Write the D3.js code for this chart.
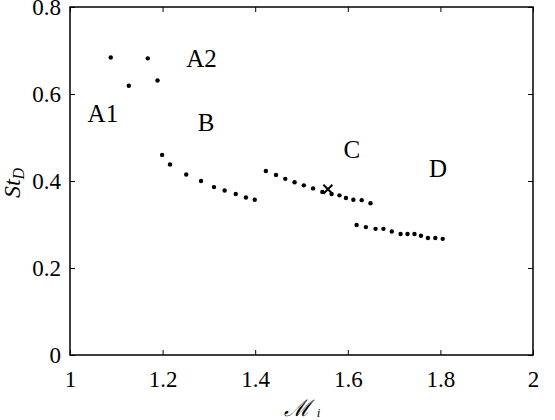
<!DOCTYPE html>
<html>
<head>
<meta charset="utf-8">
<script src="https://cdn.jsdelivr.net/npm/d3@7"></script>
<style>
  body { margin: 0; background: #fff; }
  text { font-family: "Liberation Serif", "DejaVu Serif", serif; }
</style>
</head>
<body>
<div id="chart"></div>
<script>
// ── data ─────────────────────────────────────────────────────────────
const regimeA_M  = [1.088, 1.127, 1.168, 1.189];
const regimeA_St = [0.684, 0.619, 0.682, 0.631];

const regimeB_M  = [1.199, 1.216, 1.251, 1.283, 1.311, 1.334, 1.358, 1.380, 1.399];
const regimeB_St = [0.460, 0.438, 0.415, 0.400, 0.386, 0.378, 0.370, 0.362, 0.357];

const regimeC_M  = [1.423, 1.445, 1.465, 1.485, 1.505, 1.525, 1.545, 1.565, 1.582, 1.596, 1.612, 1.630, 1.649];
const regimeC_St = [0.423, 0.414, 0.405, 0.397, 0.390, 0.383, 0.375, 0.370, 0.367, 0.361, 0.357, 0.356, 0.349];

const regimeD_M  = [1.619, 1.639, 1.660, 1.677, 1.695, 1.714, 1.729, 1.744, 1.758, 1.773, 1.789, 1.805];
const regimeD_St = [0.299, 0.294, 0.290, 0.290, 0.284, 0.278, 0.278, 0.278, 0.274, 0.269, 0.269, 0.267];

const crossPoint = [1.557, 0.381];

const regimeNames = ['A1', 'A2', 'B', 'C', 'D'];
const regimeNameM  = [1.071, 1.284, 1.294, 1.609, 1.795];
const regimeNameSt = [0.536, 0.663, 0.515, 0.453, 0.409];

const xTicks = [1, 1.2, 1.4, 1.6, 1.8, 2];
const yTicks = [0, 0.2, 0.4, 0.6, 0.8];

// ── setup ────────────────────────────────────────────────────────────
const width = 555, height = 420;
const margin = { top: 7, right: 22, bottom: 65, left: 70 };

const svg = d3.select('#chart').append('svg')
  .attr('width', width)
  .attr('height', height);

const x = d3.scaleLinear().domain([1, 2]).range([margin.left, width - margin.right]);
const y = d3.scaleLinear().domain([0, 0.8]).range([height - margin.bottom, margin.top]);

const fontTick = 23;

// axes, ticks pointing inward on all four sides
svg.append('g')
  .attr('transform', `translate(0,${y(0)})`)
  .call(d3.axisBottom(x).tickValues(xTicks).tickSizeInner(-5).tickSizeOuter(0).tickPadding(16)
    .tickFormat(d3.format('')));
svg.append('g')
  .attr('transform', `translate(0,${y(0.8)})`)
  .call(d3.axisTop(x).tickValues(xTicks).tickSizeInner(-5).tickSizeOuter(0).tickFormat(''));
svg.append('g')
  .attr('transform', `translate(${x(1)},0)`)
  .call(d3.axisLeft(y).tickValues(yTicks).tickSizeInner(-5).tickSizeOuter(0).tickPadding(9)
    .tickFormat(d3.format('')));
svg.append('g')
  .attr('transform', `translate(${x(2)},0)`)
  .call(d3.axisRight(y).tickValues(yTicks).tickSizeInner(-5).tickSizeOuter(0).tickFormat(''));

svg.selectAll('.domain').remove();
svg.selectAll('.tick line').attr('stroke', '#000').attr('stroke-width', 1);
svg.selectAll('.tick text')
  .style('font-family', '"Liberation Serif", serif')
  .attr('font-size', fontTick)
  .attr('fill', '#000');

svg.append('rect')
  .attr('x', x(1)).attr('y', y(0.8))
  .attr('width', x(2) - x(1)).attr('height', y(0) - y(0.8))
  .attr('fill', 'none').attr('stroke', '#000').attr('stroke-width', 1.5);

// ── points ───────────────────────────────────────────────────────────
const groups = [
  [regimeA_M, regimeA_St],
  [regimeB_M, regimeB_St],
  [regimeC_M, regimeC_St],
  [regimeD_M, regimeD_St]
];
const pts = groups.flatMap(([ms, st]) => ms.map((m, i) => [m, st[i]]));

svg.append('g').selectAll('circle')
  .data(pts)
  .join('circle')
  .attr('cx', d => x(d[0]))
  .attr('cy', d => y(d[1]))
  .attr('r', 2.2)
  .attr('fill', '#000');

const cx = x(crossPoint[0]), cy = y(crossPoint[1]), s = 4.5;
svg.append('path')
  .attr('d', `M${cx - s},${cy - s}L${cx + s},${cy + s}M${cx - s},${cy + s}L${cx + s},${cy - s}`)
  .attr('stroke', '#000').attr('stroke-width', 2);

// ── regime labels ────────────────────────────────────────────────────
svg.append('g').selectAll('text')
  .data(regimeNames)
  .join('text')
  .attr('x', (d, i) => x(regimeNameM[i]))
  .attr('y', (d, i) => y(regimeNameSt[i]))
  .attr('text-anchor', 'middle')
  .attr('font-size', 25)
  .text(d => d);

// ── axis titles ──────────────────────────────────────────────────────
const xl = svg.append('text')
  .attr('x', 302).attr('y', 416)
  .attr('text-anchor', 'middle')
  .attr('font-size', 23);
xl.append('tspan').style('font-family', '"DejaVu Serif", serif').attr('font-style', 'italic').text('ℳ');
xl.append('tspan').attr('font-size', 13).attr('font-style', 'italic').attr('dx', 6).attr('dy', 1).text('i');

const yl = svg.append('text')
  .attr('transform', `translate(20,${y(0.4) + 2}) rotate(-90)`)
  .attr('text-anchor', 'middle')
  .attr('font-size', 24)
  .attr('font-style', 'italic');
yl.append('tspan').text('St');
yl.append('tspan').attr('font-size', 16).attr('dy', 4).text('D');
</script>
</body>
</html>
